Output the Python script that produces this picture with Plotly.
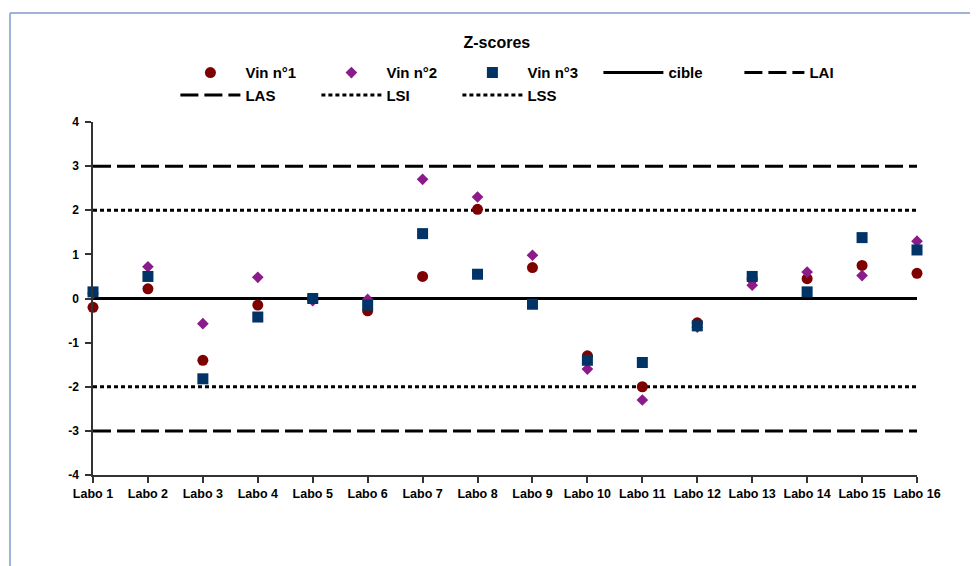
import plotly.graph_objects as go

labos = ["Labo %d" % i for i in range(1, 17)]
vin1 = [-0.2, 0.22, -1.4, -0.15, 0.0, -0.28, 0.5, 2.02, 0.7, -1.3, -2.0, -0.55, 0.45, 0.45, 0.75, 0.57]
vin2 = [0.12, 0.72, -0.57, 0.48, -0.05, -0.02, 2.7, 2.3, 0.98, -1.6, -2.3, -0.65, 0.3, 0.6, 0.52, 1.3]
vin3 = [0.15, 0.5, -1.82, -0.42, 0.0, -0.15, 1.47, 0.55, -0.13, -1.4, -1.45, -0.62, 0.5, 0.15, 1.38, 1.1]

limit_names = ["cible", "LAI", "LAS", "LSI", "LSS"]
limit_values = [0, -3, 3, -2, 2]
limit_dash = ["solid", "18px,6px", "18px,6px", "4px,3px", "4px,3px"]

yticks = [-4, -3, -2, -1, 0, 1, 2, 3, 4]
yticktext = ["<b>%d</b>" % v for v in yticks]

fig = go.Figure()
for nm, v, d in zip(limit_names, limit_values, limit_dash):
    fig.add_trace(go.Scatter(x=labos, y=[v] * len(labos), mode="lines", name=nm,
                             line=dict(color="black", width=3, dash=d)))
fig.add_trace(go.Scatter(x=labos, y=vin1, mode="markers", name="Vin n°1",
                         marker=dict(symbol="circle", size=11, color="#7F0000"), cliponaxis=False))
fig.add_trace(go.Scatter(x=labos, y=vin2, mode="markers", name="Vin n°2",
                         marker=dict(symbol="diamond", size=9, color="#8B1A8B"), cliponaxis=False))
fig.add_trace(go.Scatter(x=labos, y=vin3, mode="markers", name="Vin n°3",
                         marker=dict(symbol="square", size=11, color="#003366"), cliponaxis=False))

# page body has an 8px margin, so the figure is 8px smaller and coordinates shifted
fig.update_layout(
    width=970, height=558,
    paper_bgcolor="white", plot_bgcolor="white",
    margin=dict(l=85, r=61, t=114, b=91, autoexpand=False),
    font=dict(family="Liberation Sans, Arial, sans-serif", color="black"),
    title=dict(text="<b>Z-scores</b>", x=0.504, xref="container", y=0.939, yanchor="middle",
               font=dict(size=16, color="black")),
    showlegend=True,
    legend=dict(orientation="h", x=0.1, xanchor="left", y=1.186, yanchor="top",
                entrywidth=66, entrywidthmode="pixels", itemwidth=60,
                font=dict(size=15, color="black"), traceorder="normal", tracegroupgap=0,
                bgcolor="rgba(0,0,0,0)"),
    xaxis=dict(type="category", range=[0, 15], showgrid=False, zeroline=False,
               showline=True, linecolor="#333", linewidth=1.5,
               ticks="outside", ticklen=6, tickcolor="#333", tickwidth=1.5,
               tickfont=dict(size=12.5, color="black", family="Liberation Sans, Arial"),
               tickprefix="<b>", ticksuffix="</b>"),
    yaxis=dict(range=[-4, 4], tickvals=yticks, ticktext=yticktext, showgrid=False, zeroline=False,
               showline=True, linecolor="#333", linewidth=1.5,
               ticks="outside", ticklen=6, tickcolor="#333", tickwidth=1.5, ticklabelstandoff=4,
               tickfont=dict(size=12, color="black")),
    shapes=[
        dict(type="line", xref="paper", yref="paper", x0=-0.1007, x1=1.08, y0=1.3088, y1=1.3088,
             line=dict(color="#9DB3D8", width=2)),
        dict(type="line", xref="paper", yref="paper", x0=-0.1007, x1=-0.1007, y0=1.3088, y1=-0.27,
             line=dict(color="#9DB3D8", width=2)),
    ],
)

# legend order: Vin1, Vin2, Vin3, cible, LAI, LAS, LSI, LSS
order = ["Vin n°1", "Vin n°2", "Vin n°3", "cible", "LAI", "LAS", "LSI", "LSS"]
for t in fig.data:
    t.legendrank = order.index(t.name) + 1
    t.name = "<b>" + t.name + "</b>"

fig.write_html("out.html")
